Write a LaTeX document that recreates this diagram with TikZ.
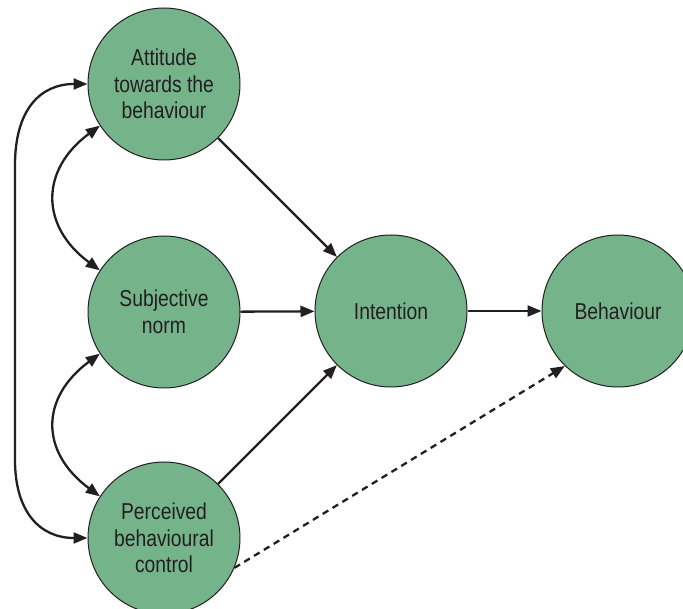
\documentclass[tikz,border=0pt]{standalone}
\usepackage{fontspec}
\setmainfont[FakeStretch=0.84]{Liberation Sans}
\usetikzlibrary{arrows.meta}
\definecolor{nodegreen}{RGB}{117,180,139}
\definecolor{inkc}{RGB}{35,31,32}
\begin{document}
\begin{tikzpicture}[x=1pt,y=-1pt,
  concept/.style={circle, draw=inkc, line width=1pt, fill=nodegreen,
    minimum size=152pt, inner sep=0pt, align=center, text=inkc,
    font=\fontsize{23}{26.5}\selectfont},
  link/.style={draw=inkc, line width=2.3pt, -{Triangle[length=14pt,width=11pt]}},
  biline/.style={draw=inkc, line width=2.3pt, {Triangle[length=14pt,width=11pt]}-{Triangle[length=14pt,width=11pt]}},
  weaklink/.style={link, dash pattern=on 6.5pt off 5pt}]
\useasboundingbox (0,0) rectangle (683,609);
\clip (0,0) rectangle (683,609);
\node[concept] (att) at (164,84) {Attitude\\towards the\\behaviour};
\node[concept] (sub) at (164,312) {Subjective\\norm};
\node[concept] (perc) at (164,538) {Perceived\\behavioural\\control};
\node[concept] (int) at (391,311) {Intention};
\node[concept] (beh) at (618,311) {Behaviour};
\draw[link] (att) -- (int);
\draw[link] (sub) -- (int);
\draw[link] (perc) -- (int);
\draw[link] (int) -- (beh);
\draw[weaklink] (perc.-23.6) -- (beh.226);
\draw[biline] (att.213) .. controls (40,170) and (40,226) .. (sub.147);
\draw[biline] (sub.213) .. controls (40,398) and (40,452) .. (perc.147);
\draw[biline] (att.west) .. controls (40,84) and (15,110) .. (15,165) -- (15,460) .. controls (15,512) and (40,538) .. (perc.west);
\end{tikzpicture}
\end{document}
